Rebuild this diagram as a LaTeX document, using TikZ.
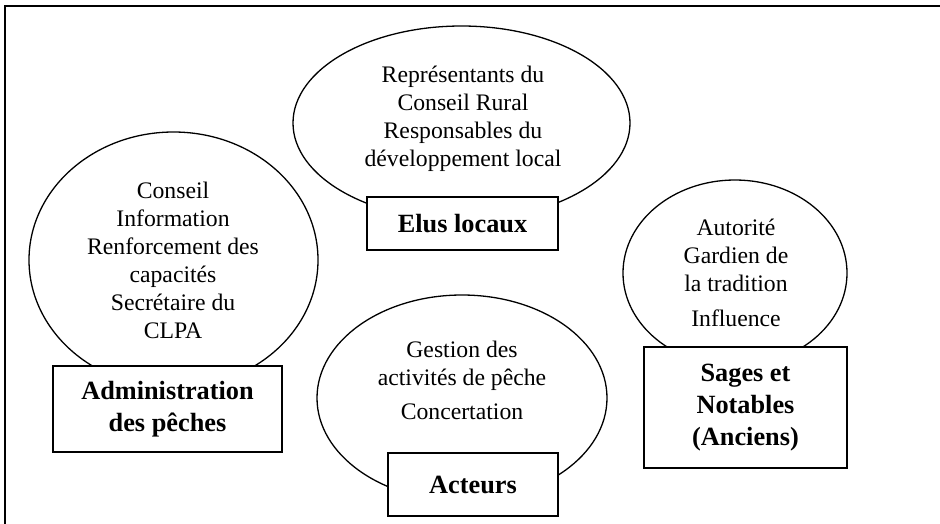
\documentclass[tikz,border=0pt]{standalone}
\usepackage{fontspec}
\setmainfont{Liberation Serif}
\usetikzlibrary{shapes.geometric}
\begin{document}
\begin{tikzpicture}[x=1pt,y=-1pt,
  bubble/.style={draw, ellipse, line width=1.3pt, inner sep=0pt},
  rolebox/.style={draw, rectangle, fill=white, line width=1.8pt, inner sep=0pt,
    align=center, font=\fontsize{26.3}{32}\selectfont\bfseries},
  note/.style={align=center, inner sep=0pt, font=\fontsize{23.7}{28}\selectfont}]
\useasboundingbox (0,0) rectangle (940,523);
\clip (0,0) rectangle (940,523);

% outer frame (runs past the right and bottom edges)
\draw[line width=2pt] (5,540) -- (5,6) -- (950,6);

% bubbles
\node[bubble, minimum width=337pt, minimum height=194pt] (eluB) at (461.5,123) {};
\node[bubble, minimum width=289pt, minimum height=256pt] (admB) at (173.5,260) {};
\node[bubble, minimum width=224pt, minimum height=186pt] (sagB) at (735,273) {};
\node[bubble, minimum width=290pt, minimum height=206pt] (actB) at (462,398) {};

% bubble contents
\node[note] (eluT) at (463,119) {Représentants du\\Conseil Rural\\Responsables du\\développement local};
\node[note] (admT) at (173,260) {Conseil\\Information\\Renforcement des\\capacités\\Secrétaire du\\CLPA};
\node[note] (sagT) at (736,273) {Autorité\\Gardien de\\la tradition\\[7pt]Influence};
\node[note] (actT) at (462,380.5) {Gestion des\\activités de pêche\\[6pt]Concertation};

% actor boxes
\node[rolebox, minimum width=191pt, minimum height=53pt] (elu) at (462.5,223.5) {Elus locaux};
\node[rolebox, minimum width=229pt, minimum height=86pt] (adm) at (167.5,409) {Administration\\des pêches};
\node[rolebox, minimum width=170pt, minimum height=63pt] (act) at (473,484.5) {Acteurs};
\node[rolebox, minimum width=203pt, minimum height=121pt] (sag) at (745.5,407.5) {Sages et\\Notables\\(Anciens)};
\end{tikzpicture}
\end{document}
